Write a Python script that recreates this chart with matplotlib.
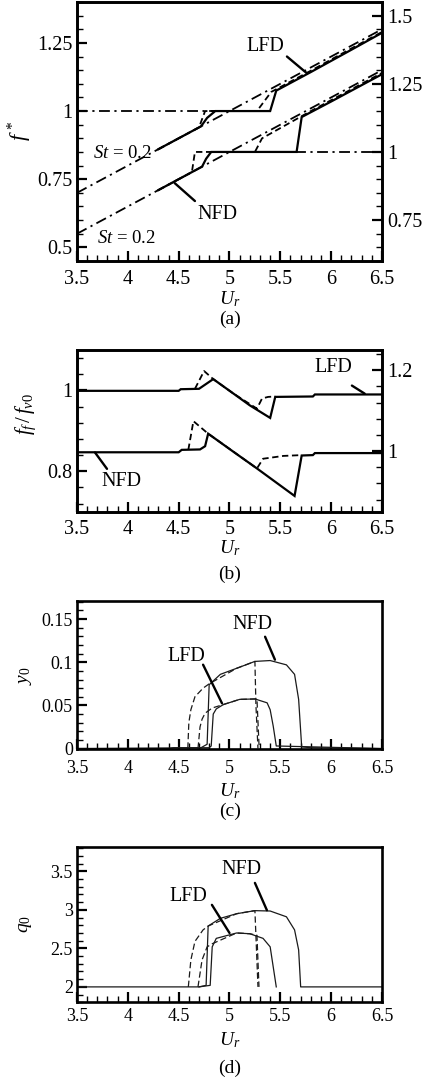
import matplotlib
matplotlib.use('Agg')
import matplotlib.pyplot as plt
from matplotlib.ticker import MultipleLocator, FuncFormatter

plt.rcParams['font.family'] = ['Liberation Serif', 'DejaVu Serif']
plt.rcParams['mathtext.fontset'] = 'custom'
plt.rcParams['mathtext.rm'] = 'Liberation Serif'
plt.rcParams['mathtext.it'] = 'Liberation Serif:italic'
plt.rcParams['mathtext.bf'] = 'Liberation Serif:bold'

# ---------------- data ----------------
ur_ticks = [3.5, 4, 4.5, 5, 5.5, 6, 6.5]

# (a) reference lines
st_ur = [3.5, 6.5]
st_f = [0.7, 1.3]
fn_lfd_ur = [3.5, 5.0]
fn_lfd_f = [1.0, 1.0]
fn_nfd_ur = [5.0, 6.5]
fn_nfd_f = [1.0, 1.0]

# (a) f* curves (LFD on left axis, NFD on right axis)
a_lfd_solid_ur = [4.30, 4.50, 4.72, 4.78, 4.86, 5.10, 5.40, 5.46, 5.80, 6.20, 6.50]
a_lfd_solid_f = [0.860, 0.900, 0.944, 0.975, 1.000, 1.000, 1.000, 1.075, 1.143, 1.225, 1.287]
a_lfd_dash_ur = [4.30, 4.50, 4.70, 4.76, 5.00, 5.27, 5.41, 5.80, 6.20, 6.50]
a_lfd_dash_f = [0.860, 0.900, 0.940, 1.000, 1.000, 1.000, 1.070, 1.148, 1.230, 1.290]
a_nfd_solid_ur = [4.30, 4.50, 4.73, 4.77, 4.82, 5.20, 5.66, 5.71, 6.00, 6.50]
a_nfd_solid_f = [0.860, 0.900, 0.946, 0.975, 1.000, 1.000, 1.000, 1.128, 1.185, 1.285]
a_nfd_dash_ur = [4.30, 4.50, 4.63, 4.66, 5.00, 5.25, 5.32, 5.80, 6.50]
a_nfd_dash_f = [0.860, 0.900, 0.926, 1.000, 1.000, 1.000, 1.050, 1.150, 1.290]

# (b) ff/fv0
b_lfd_solid_ur = [3.50, 4.50, 4.52, 4.70, 4.77, 4.84, 5.04, 5.20, 5.40, 5.45, 5.82, 5.84, 6.50]
b_lfd_solid_f = [0.999, 0.999, 1.003, 1.004, 1.016, 1.028, 0.992, 0.963, 0.932, 0.984, 0.985, 0.990, 0.990]
b_lfd_dash_ur = [4.66, 4.75, 4.84, 5.04, 5.27, 5.32, 5.38, 5.45]
b_lfd_dash_f = [1.004, 1.048, 1.028, 0.992, 0.955, 0.980, 0.984, 0.985]
b_nfd_solid_ur = [3.50, 4.50, 4.53, 4.71, 4.76, 4.79, 5.04, 5.27, 5.64, 5.71, 5.82, 5.84, 6.50]
b_nfd_solid_f = [0.997, 0.997, 1.003, 1.004, 1.012, 1.043, 0.998, 0.957, 0.889, 0.989, 0.990, 0.995, 0.995]
b_nfd_dash_ur = [4.595, 4.645, 4.79, 5.27, 5.33, 5.53, 5.71]
b_nfd_dash_f = [1.003, 1.074, 1.043, 0.957, 0.981, 0.988, 0.990]

# (c) y0
c_nfd_solid_ur = [3.50, 4.40, 4.45, 4.72, 4.78, 4.80, 4.91, 5.07, 5.25, 5.40, 5.56, 5.64, 5.68, 5.71, 5.80, 6.50]
c_nfd_solid_y = [0.000, 0.000, 0.001, 0.001, 0.005, 0.074, 0.086, 0.093, 0.101, 0.102, 0.097, 0.086, 0.057, 0.002, 0.001, 0.000]
c_nfd_dash_ur = [4.59, 4.60, 4.62, 4.66, 4.74, 4.80, 5.07, 5.25, 5.26, 5.28]
c_nfd_dash_y = [0.000, 0.030, 0.045, 0.060, 0.070, 0.075, 0.093, 0.101, 0.050, 0.000]
c_lfd_solid_ur = [3.50, 4.80, 4.82, 4.84, 4.87, 4.94, 5.10, 5.25, 5.37, 5.40, 5.43, 5.46, 6.50]
c_lfd_solid_y = [0.000, 0.001, 0.003, 0.040, 0.046, 0.051, 0.057, 0.0575, 0.053, 0.045, 0.026, 0.003, 0.000]
c_lfd_dash_ur = [4.69, 4.71, 4.73, 4.76, 4.83, 5.10, 5.27, 5.29, 5.30]
c_lfd_dash_y = [0.000, 0.025, 0.034, 0.041, 0.047, 0.057, 0.0575, 0.005, 0.002]

# (d) q0
d_nfd_solid_ur = [3.50, 4.70, 4.77, 4.79, 4.91, 5.07, 5.25, 5.40, 5.56, 5.64, 5.68, 5.70, 6.50]
d_nfd_solid_q = [2.00, 2.00, 2.02, 2.79, 2.89, 2.95, 2.99, 2.985, 2.91, 2.74, 2.48, 2.00, 2.00]
d_nfd_dash_ur = [4.595, 4.62, 4.66, 4.74, 4.79, 5.07, 5.25, 5.28]
d_nfd_dash_q = [2.00, 2.35, 2.59, 2.74, 2.79, 2.95, 2.99, 2.00]
d_lfd_solid_ur = [4.70, 4.81, 4.83, 4.87, 5.07, 5.20, 5.33, 5.40, 5.43, 5.46]
d_lfd_solid_q = [2.00, 2.02, 2.52, 2.63, 2.70, 2.69, 2.63, 2.52, 2.26, 2.00]
d_lfd_dash_ur = [4.69, 4.73, 4.78, 4.83, 5.07, 5.20, 5.27, 5.29]
d_lfd_dash_q = [2.00, 2.35, 2.52, 2.56, 2.70, 2.69, 2.67, 2.00]

# ---------------- figure ----------------
W, H = 424, 1084
fig = plt.figure(figsize=(W / 100, H / 100), dpi=100)


def rect(l, t, r, b):
    return [l / W, 1 - b / H, (r - l) / W, (b - t) / H]


def ftext(x, y, s, **kw):
    fig.text(x / W, 1 - y / H, s, ha='center', va='center', **kw)


fmt = FuncFormatter(lambda v, p: '%g' % round(v, 4))

SOLID = dict(color='black', lw=1.6, ls='-', solid_joinstyle='miter')
DASH = dict(color='black', lw=1.3, ls=(0, (3.5, 2.0)))
DASHDOT = dict(color='black', lw=1.3, ls=(0, (6, 2.5, 1.2, 2.5)))
THIN = dict(color='#1a1a1a', lw=0.9, ls='-')
THINDASH = dict(color='#1a1a1a', lw=0.9, ls=(0, (5, 2.5)))

BIG = 14.5
SMALL = 13


def style_axis(ax, ymaj, ymin, fs, xpad, ypad=3.0):
    ax.set_xlim(3.5, 6.5)
    ax.xaxis.set_major_locator(MultipleLocator(0.5))
    ax.xaxis.set_minor_locator(MultipleLocator(0.1))
    ax.yaxis.set_major_locator(MultipleLocator(ymaj))
    ax.yaxis.set_minor_locator(MultipleLocator(ymin))
    ax.xaxis.set_major_formatter(fmt)
    ax.yaxis.set_major_formatter(fmt)
    ax.tick_params(which='both', direction='in', top=False, right=False,
                   labelsize=fs)
    ax.tick_params(axis='x', which='major', length=7, width=1.6, pad=xpad)
    ax.tick_params(axis='x', which='minor', length=4.5, width=1.0)
    ax.tick_params(axis='y', which='major', length=7, width=1.6, pad=ypad)
    ax.tick_params(axis='y', which='minor', length=4.5, width=1.0)
    for s in ax.spines.values():
        s.set_linewidth(1.9)


def style_right(ax2, ymaj, ymin, fs):
    ax2.yaxis.set_major_locator(MultipleLocator(ymaj))
    ax2.yaxis.set_minor_locator(MultipleLocator(ymin))
    ax2.yaxis.set_major_formatter(fmt)
    ax2.tick_params(axis='y', which='both', direction='in', left=False,
                    right=True, labelsize=fs, pad=4)
    ax2.tick_params(axis='y', which='major', length=7, width=1.6)
    ax2.tick_params(axis='y', which='minor', length=4.5, width=1.0)
    for s in ax2.spines.values():
        s.set_linewidth(1.9)


def leader(ax, p0, p1, lw=1.7):
    ax.annotate('', xy=p1, xytext=p0,
                arrowprops=dict(arrowstyle='-', lw=lw, color='black',
                                shrinkA=0, shrinkB=0))


ANN_FS = 14.5
LAB_FS = 14
CAP_FS = 14

# ---- (a)
axa = fig.add_axes(rect(77, 2, 382, 261))
style_axis(axa, 0.25, 0.05, BIG, xpad=6.5)
axa.set_ylim(0.45, 1.40)
axa2 = axa.twinx()
axa2.set_ylim(0.60, 1.55)
style_right(axa2, 0.25, 0.05, BIG)
axa.plot(st_ur, st_f, **DASHDOT)
axa.plot(fn_lfd_ur, fn_lfd_f, **DASHDOT)
axa.plot(a_lfd_dash_ur, a_lfd_dash_f, **DASH)
axa.plot(a_lfd_solid_ur, a_lfd_solid_f, **SOLID)
axa2.plot(st_ur, st_f, **DASHDOT)
axa2.plot(fn_nfd_ur, fn_nfd_f, **DASHDOT)
axa2.plot(a_nfd_dash_ur, a_nfd_dash_f, **DASH)
axa2.plot(a_nfd_solid_ur, a_nfd_solid_f, **SOLID)
axa.text(5.35, 1.238, 'LFD', ha='center', va='center', fontsize=ANN_FS)
leader(axa, (5.565, 1.20), (5.76, 1.139))
axa.text(4.877, 0.622, 'NFD', ha='center', va='center', fontsize=ANN_FS)
leader(axa, (4.66, 0.67), (4.46, 0.736))
axa.text(3.655, 0.846, r'$St$ = 0.2', ha='left', va='center', fontsize=13.5)
axa.text(3.70, 0.534, r'$St$ = 0.2', ha='left', va='center', fontsize=13.5)
ftext(20, 131, r'$f^{\,*}$', fontsize=16, rotation=90)
ftext(230, 299, r'$U_r$', fontsize=LAB_FS)
ftext(230, 319, '(a)', fontsize=CAP_FS)

# ---- (b)
axb = fig.add_axes(rect(77, 350, 382, 511.7))
style_axis(axb, 0.2, 0.04, BIG, xpad=6.0)
axb.set_ylim(0.7, 1.1)
axb2 = axb.twinx()
axb2.set_ylim(0.85, 1.25)
style_right(axb2, 0.2, 0.04, BIG)
axb.plot(b_lfd_dash_ur, b_lfd_dash_f, **DASH)
axb.plot(b_lfd_solid_ur, b_lfd_solid_f, **SOLID)
axb2.plot(b_nfd_dash_ur, b_nfd_dash_f, **DASH)
axb2.plot(b_nfd_solid_ur, b_nfd_solid_f, **SOLID)
axb.text(6.017, 1.056, 'LFD', ha='center', va='center', fontsize=ANN_FS)
leader(axb, (6.204, 1.012), (6.33, 0.992))
axb.text(3.94, 0.775, 'NFD', ha='center', va='center', fontsize=ANN_FS)
leader(axb, (3.795, 0.806), (3.677, 0.8465))
ftext(26, 414, r'$f_f\,/\,f_{v0}$', fontsize=15, rotation=90)
ftext(230, 548, r'$U_r$', fontsize=LAB_FS)
ftext(230, 574, '(b)', fontsize=CAP_FS)

# ---- (c)
axc = fig.add_axes(rect(77, 601, 382, 749))
style_axis(axc, 0.05, 0.01, SMALL, xpad=8.0)
axc.set_ylim(-0.0005, 0.171)
for xs, ys in [(c_nfd_dash_ur, c_nfd_dash_y), (c_lfd_dash_ur, c_lfd_dash_y)]:
    axc.plot(xs, ys, clip_on=False, **THINDASH)
for xs, ys in [(c_nfd_solid_ur, c_nfd_solid_y), (c_lfd_solid_ur, c_lfd_solid_y)]:
    axc.plot(xs, ys, clip_on=False, **THIN)
axc.text(5.23, 0.1435, 'NFD', ha='center', va='center', fontsize=ANN_FS)
leader(axc, (5.35, 0.1296), (5.447, 0.103))
axc.text(4.58, 0.1065, 'LFD', ha='center', va='center', fontsize=ANN_FS)
leader(axc, (4.74, 0.0972), (4.926, 0.0525))
ftext(25, 676, r'$y_0$', fontsize=LAB_FS, rotation=90)
ftext(230, 791, r'$U_r$', fontsize=LAB_FS)
ftext(230, 811, '(c)', fontsize=CAP_FS)

# ---- (d)
axd = fig.add_axes(rect(77, 846.7, 382, 1002.3))
style_axis(axd, 0.5, 0.1, SMALL, xpad=4.0)
axd.set_ylim(1.8, 3.82)
for xs, ys in [(d_nfd_dash_ur, d_nfd_dash_q), (d_lfd_dash_ur, d_lfd_dash_q)]:
    axd.plot(xs, ys, **THINDASH)
for xs, ys in [(d_nfd_solid_ur, d_nfd_solid_q), (d_lfd_solid_ur, d_lfd_solid_q)]:
    axd.plot(xs, ys, **THIN)
axd.text(5.122, 3.52, 'NFD', ha='center', va='center', fontsize=ANN_FS)
leader(axd, (5.25, 3.35), (5.368, 2.995))
axd.text(4.59, 3.17, 'LFD', ha='center', va='center', fontsize=ANN_FS)
leader(axd, (4.827, 3.065), (5.0, 2.70))
ftext(26, 924, r'$q_0$', fontsize=LAB_FS, rotation=90)
ftext(230, 1040, r'$U_r$', fontsize=LAB_FS)
ftext(230, 1068, '(d)', fontsize=CAP_FS)

fig.savefig('out.png', dpi=100)
